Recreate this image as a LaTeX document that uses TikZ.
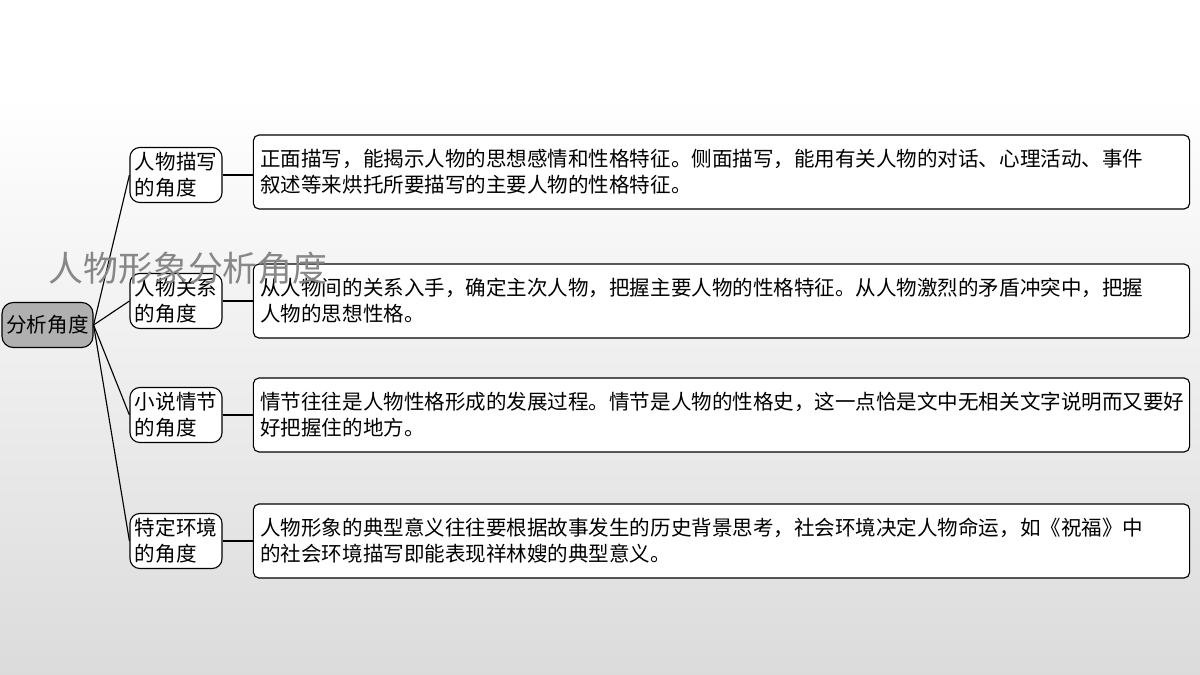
\documentclass[tikz,border=0pt]{standalone}
\usepackage{fontspec}
\newfontfamily\cjk{Noto Sans CJK SC}
\usetikzlibrary{positioning}
\pgfdeclareverticalshading{backdrop}{100bp}{color(0bp)=(black!14); color(25bp)=(black!14); color(68bp)=(white); color(100bp)=(white)}
\tikzset{
  boxfont/.style={font=\cjk\fontsize{14.6}{18.6}\selectfont},
  rootbox/.style={draw,line width=0.8pt,rounded corners=8pt,fill=black!31,
    minimum width=2.275cm,minimum height=1.125cm,inner sep=0.1cm,boxfont},
  midbox/.style={draw,line width=0.8pt,rounded corners=7pt,fill=white,
    minimum width=2.3cm,minimum height=1.375cm,inner sep=0.1cm,align=left,boxfont},
  textbox/.style={draw,line width=0.8pt,rounded corners=4pt,fill=white,
    text width=23.05cm,minimum height=1.85cm,inner xsep=0.175cm,align=left,boxfont},
  link/.style={line width=0.8pt}
}

\begin{document}
\begin{tikzpicture}[x=0.025cm,y=-0.025cm]
% background
\useasboundingbox (0,0) rectangle (1200,675);
\shade[shading=backdrop] (0,0) rectangle (1200,675);

% root
\node[rootbox] (root) at (47.5,325) {分析角度};

% middle level
\node[midbox] (m1) at (176,175) {人物描写\\的角度};
\node[midbox] (m2) at (176,301) {人物关系\\的角度};
\node[midbox] (m3) at (176,415) {小说情节\\的角度};
\node[midbox] (m4) at (176,541) {特定环境\\的角度};

% explanations
\node[textbox] (t1) at (721.5,172) {正面描写，能揭示人物的思想感情和性格特征。侧面描写，能用有关人物的对话、心理活动、事件\\叙述等来烘托所要描写的主要人物的性格特征。};
\node[textbox] (t2) at (721.5,301) {从人物间的关系入手，确定主次人物，把握主要人物的性格特征。从人物激烈的矛盾冲突中，把握\\人物的思想性格。};
\node[textbox] (t3) at (721.5,415) {情节往往是人物性格形成的发展过程。情节是人物的性格史，这一点恰是文中无相关文字说明而又要好\\好把握住的地方。};
\node[textbox] (t4) at (721.5,541) {人物形象的典型意义往往要根据故事发生的历史背景思考，社会环境决定人物命运，如《祝福》中\\的社会环境描写即能表现祥林嫂的典型意义。};

% connectors
\foreach \i in {1,...,4}{
  \draw[link] (root.east) -- (m\i.west);
  \draw[link] (m\i.east) -- (m\i.east -| t\i.west);
}

% watermark title, on top
\node[text=black!47,font=\cjk\fontsize{24.8}{28}\selectfont] (title) at (188,268) {人物形象分析角度};
\end{tikzpicture}
\end{document}
